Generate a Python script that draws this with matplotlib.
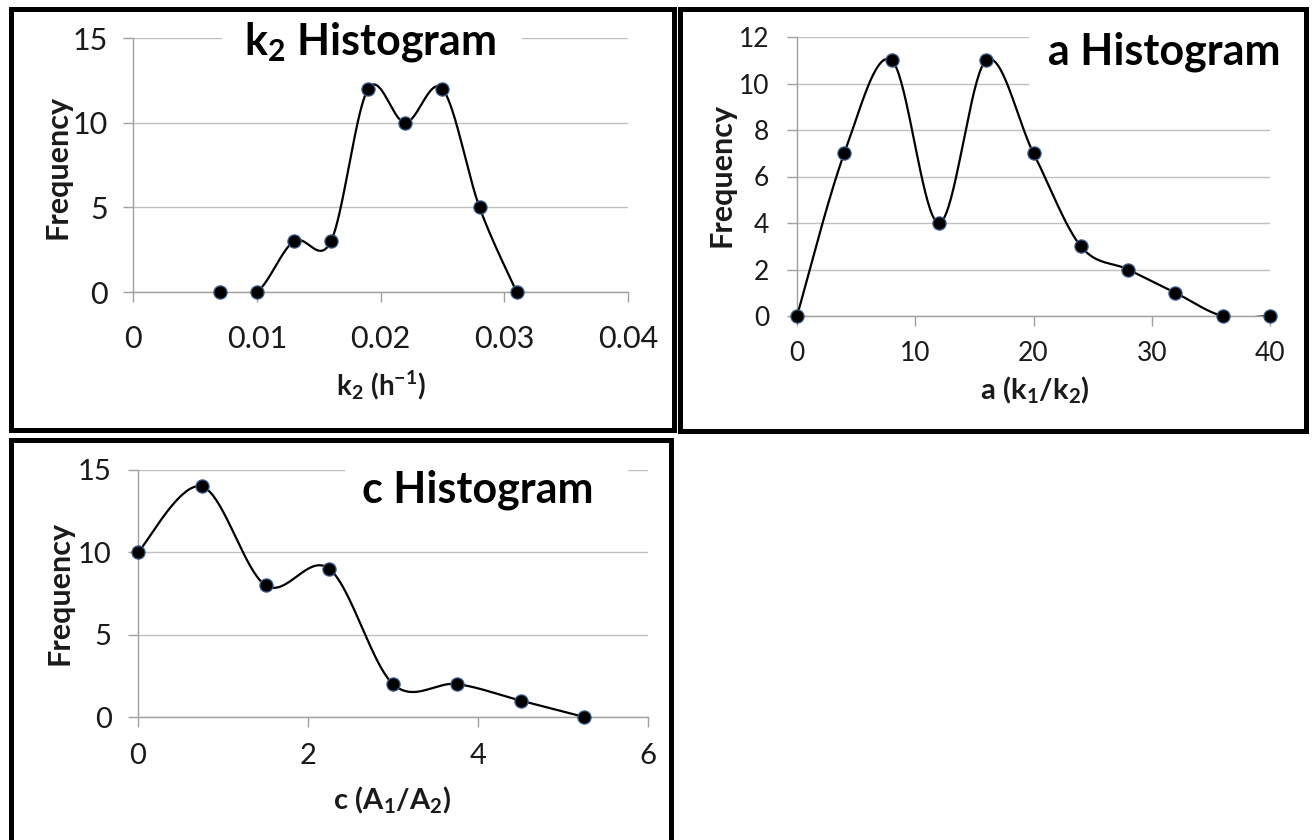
import numpy as np
import matplotlib
matplotlib.use('Agg')
import matplotlib.pyplot as plt
from matplotlib.patches import Rectangle

plt.rcParams['font.family'] = ['Lato', 'DejaVu Sans']
plt.rcParams['mathtext.fontset'] = 'custom'
plt.rcParams['mathtext.rm'] = 'Lato'
plt.rcParams['mathtext.it'] = 'Lato:italic'
plt.rcParams['mathtext.bf'] = 'Lato:bold'

# ---------------- data ----------------
k2_bins = [0.007, 0.010, 0.013, 0.016, 0.019, 0.022, 0.025, 0.028, 0.031]
k2_freq = [0, 0, 3, 3, 12, 10, 12, 5, 0]
k2_xticks = [0, 0.01, 0.02, 0.03, 0.04]
k2_xticklabels = ['0', '0.01', '0.02', '0.03', '0.04']
k2_yticks = [0, 5, 10, 15]

a_bins = [0, 4, 8, 12, 16, 20, 24, 28, 32, 36, 40]
a_freq = [0, 7, 11, 4, 11, 7, 3, 2, 1, 0, 0]
a_xticks = [0, 10, 20, 30, 40]
a_yticks = [0, 2, 4, 6, 8, 10, 12]

c_bins = [0, 0.75, 1.5, 2.25, 3.0, 3.75, 4.5, 5.25]
c_freq = [10, 14, 8, 9, 2, 2, 1, 0]
c_xticks = [0, 2, 4, 6]
c_yticks = [0, 5, 10, 15]

W, H = 1316, 840
fig = plt.figure(figsize=(W / 100, H / 100), dpi=100)


def fx(px):
    return px / W


def fy(py):
    return 1 - py / H


def add_axes(x0, x1, ytop, ybot):
    return fig.add_axes([fx(x0), fy(ybot), fx(x1) - fx(x0), fy(ytop) - fy(ybot)])


def smooth(x, y, n=40):
    P = np.column_stack([np.asarray(x, float), np.asarray(y, float)])
    Pe = np.vstack([P[0], P, P[-1]])
    t = np.linspace(0, 1, n)[:, None]
    out = []
    for i in range(len(P) - 1):
        p0, p1, p2, p3 = Pe[i], Pe[i + 1], Pe[i + 2], Pe[i + 3]
        c1 = p1 + (p2 - p0) / 6
        c2 = p2 - (p3 - p1) / 6
        seg = ((1 - t) ** 3) * p1 + 3 * ((1 - t) ** 2) * t * c1 + 3 * (1 - t) * t ** 2 * c2 + t ** 3 * p2
        out.append(seg if i == 0 else seg[1:])
    return np.vstack(out)


GRID = '#c0c0c0'
AX = '#a0a0a0'
TXT = '#1a1a1a'


def draw(ax, x, y, xlim, xticks, xtl, ylim, yticks, fs, xpad, ypad):
    s = smooth(x, y)
    ax.plot(s[:, 0], s[:, 1], color='black', lw=1.6, zorder=3)
    ax.plot(x, y, 'o', ms=9.5, mfc='black', mec='#3b5f8f', mew=0.9, zorder=4, clip_on=False)
    ax.set_xlim(xlim)
    ax.set_ylim(ylim)
    ax.set_xticks(xticks)
    if xtl is not None:
        ax.set_xticklabels(xtl)
    ax.set_yticks(yticks)
    ax.grid(axis='y', color=GRID, lw=1.0)
    ax.set_axisbelow(True)
    for sp in ['top', 'right']:
        ax.spines[sp].set_visible(False)
    for sp in ['left', 'bottom']:
        ax.spines[sp].set_color(AX)
        ax.spines[sp].set_linewidth(1.0)
    ax.tick_params(direction='out', length=7, width=1.0, color=AX, labelsize=fs, labelcolor=TXT)
    ax.tick_params(axis='x', pad=xpad)
    ax.tick_params(axis='y', pad=ypad)


# Panel 1: k2
ax1 = add_axes(133, 628, 38, 292)
draw(ax1, k2_bins, k2_freq, (0, 0.04), k2_xticks, k2_xticklabels, (0, 15), k2_yticks, 22, 17, 11)
# Panel 2: a
ax2 = add_axes(797, 1270, 37, 316)
draw(ax2, a_bins, a_freq, (0, 40), a_xticks, None, (0, 12), a_yticks, 19, 11, 13)
# Panel 3: c
ax3 = add_axes(138, 648, 470, 717)
draw(ax3, c_bins, c_freq, (0, 6), c_xticks, None, (0, 15), c_yticks, 21, 12, 12)

# white boxes behind titles (hide gridlines)
for (x0, y0, x1, y1) in [(222, 15, 522, 70), (1029, 15, 1300, 108), (345, 455, 628, 528)]:
    fig.patches.append(Rectangle((fx(x0), fy(y1)), fx(x1) - fx(x0), fy(y0) - fy(y1),
                                 transform=fig.transFigure, facecolor='white',
                                 edgecolor='none', zorder=2))

# titles
fig.text(fx(370), fy(42), r'k$_\mathbf{2}$ Histogram', fontsize=31, fontweight='bold',
         ha='center', va='center', zorder=5, color='black')
fig.text(fx(1164), fy(52), 'a Histogram', fontsize=31, fontweight='bold',
         ha='center', va='center', zorder=5, color='black')
fig.text(fx(478), fy(490), 'c Histogram', fontsize=31, fontweight='bold',
         ha='center', va='center', zorder=5, color='black')

# axis labels
fig.text(fx(57), fy(167), 'Frequency', rotation=90, fontsize=22, fontweight='bold',
         ha='center', va='center', zorder=5, color=TXT)
fig.text(fx(722), fy(175), 'Frequency', rotation=90, fontsize=22, fontweight='bold',
         ha='center', va='center', zorder=5, color=TXT)
fig.text(fx(60), fy(593), 'Frequency', rotation=90, fontsize=22, fontweight='bold',
         ha='center', va='center', zorder=5, color=TXT)

fig.text(fx(381), fy(385), r'$\mathbf{k_2\ (h^{-1})}$', fontsize=20,
         ha='center', va='center', zorder=5, color=TXT)
fig.text(fx(1035), fy(390), r'$\mathbf{a\ (k_1/k_2)}$', fontsize=21,
         ha='center', va='center', zorder=5, color=TXT)
fig.text(fx(392), fy(800), r'$\mathbf{c\ (A_1/A_2)}$', fontsize=21,
         ha='center', va='center', zorder=5, color=TXT)

# panel borders
for (x0, y0, x1, y1) in [(10.5, 9, 674, 430.5), (679.5, 9.5, 1305.5, 431), (10.5, 440, 670.5, 900)]:
    fig.patches.append(Rectangle((fx(x0), fy(y1)), fx(x1) - fx(x0), fy(y0) - fy(y1),
                                 transform=fig.transFigure, facecolor='none',
                                 edgecolor='black', lw=3.6, zorder=6, clip_on=False))

fig.savefig('out.png', dpi=100)
